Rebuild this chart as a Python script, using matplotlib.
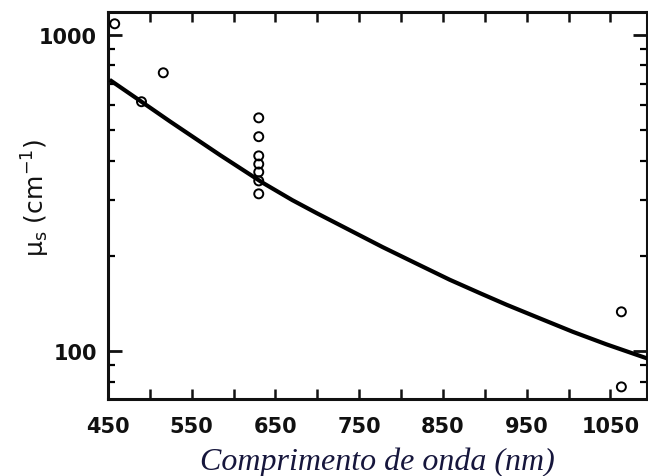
import matplotlib
matplotlib.use("Agg")
import matplotlib.pyplot as plt
from matplotlib.ticker import FixedLocator, LogLocator, NullFormatter, FixedFormatter

plt.rcParams["mathtext.default"] = "regular"

# Fitted curve
curve_wl = [452, 490, 524, 584, 635, 670, 699, 740, 778, 820, 858, 895, 926, 965, 1005, 1045, 1085, 1095]
curve_mu = [720, 614, 532, 416, 340, 300, 273, 240, 213, 188, 168, 152, 140, 127, 115, 105, 96.5, 94.5]

# Measured points (open circles)
pts_wl = [458, 490, 516, 630, 630, 630, 630, 630, 630, 630, 1063, 1063]
pts_mu = [1083, 614, 758, 546, 476, 414, 390, 368, 345, 314, 133, 77]

xtick_vals = [450, 550, 650, 750, 850, 950, 1050]
xtick_labels = ["450", "550", "650", "750", "850", "950", "1050"]
xminor_vals = [500, 600, 700, 800, 900, 1000]
ytick_vals = [100, 1000]
ytick_labels = ["100", "1000"]

fig = plt.figure(figsize=(6.48, 4.77), dpi=100)
ax = fig.add_axes([108/648, 1-400/477, (646.5-108)/648, (400-13)/477])

ax.plot(curve_wl, curve_mu, color="black", lw=3.0, solid_capstyle="butt",
        solid_joinstyle="round", zorder=3)
ax.scatter(pts_wl, pts_mu, s=42, facecolors="none", edgecolors="black",
           linewidths=1.4, zorder=4)

ax.set_yscale("log")
ax.set_xlim(450, 1093)
ax.set_ylim(70.5, 1180)

ax.xaxis.set_major_locator(FixedLocator(xtick_vals))
ax.xaxis.set_major_formatter(FixedFormatter(xtick_labels))
ax.xaxis.set_minor_locator(FixedLocator(xminor_vals))
ax.xaxis.set_minor_formatter(NullFormatter())

ax.yaxis.set_major_locator(FixedLocator(ytick_vals))
ax.yaxis.set_major_formatter(FixedFormatter(ytick_labels))
ax.yaxis.set_minor_locator(LogLocator(base=10, subs=[2, 3, 4, 5, 6, 7, 8, 9]))
ax.yaxis.set_minor_formatter(NullFormatter())

for sp in ax.spines.values():
    sp.set_linewidth(2.2)
    sp.set_color("#111111")

ax.tick_params(axis="x", which="both", direction="in", top=True, bottom=True,
               length=7, width=1.8, pad=12, labelsize=15, colors="#111111")
ax.tick_params(axis="y", which="major", direction="in", left=True, right=True,
               length=10, width=2.0, pad=8, labelsize=15, colors="#111111")
ax.tick_params(axis="y", which="minor", direction="in", left=True, right=True,
               length=5, width=1.6)
for lbl in ax.get_xticklabels() + ax.get_yticklabels():
    lbl.set_fontfamily("DejaVu Sans")
    lbl.set_fontweight("bold")

fig.text(36/648, 1-198/477, "μ$_s$ (cm$^{-1}$)", rotation=90, ha="center", va="center",
         fontsize=18, color="#111111", family="DejaVu Sans")
fig.text(377/648, 1-462/477, "Comprimento de onda (nm)", ha="center", va="center",
         fontsize=23, style="italic", family="Liberation Serif", color="#16163c")

fig.savefig("out.png", dpi=100)
